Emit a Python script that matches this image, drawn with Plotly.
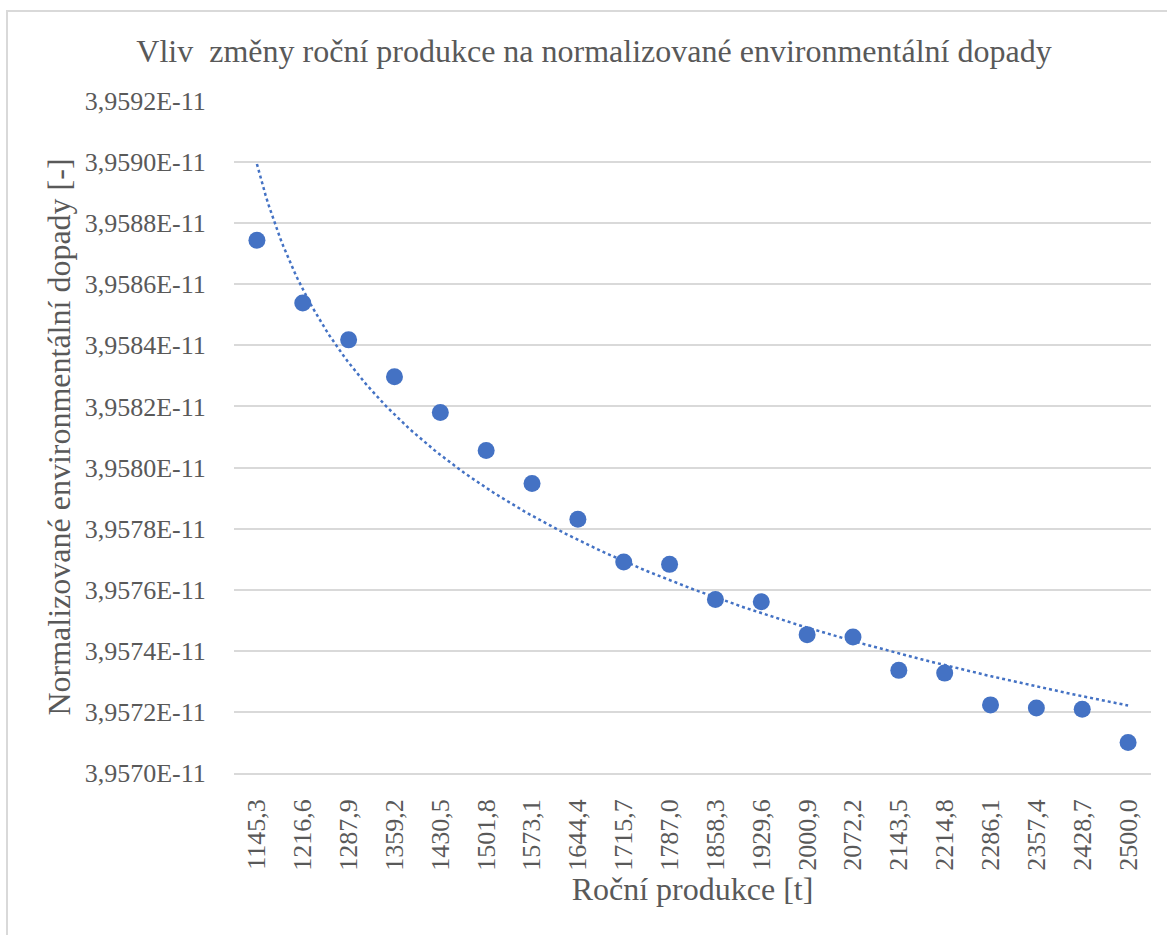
import numpy as np
import plotly.graph_objects as go

# ---- data ----
categories = ["1145,3", "1216,6", "1287,9", "1359,2", "1430,5", "1501,8", "1573,1",
              "1644,4", "1715,7", "1787,0", "1858,3", "1929,6", "2000,9", "2072,2",
              "2143,5", "2214,8", "2286,1", "2357,4", "2428,7", "2500,0"]
impacts = [3.958744e-11, 3.958539e-11, 3.958418e-11, 3.958297e-11, 3.958180e-11,
           3.958056e-11, 3.957948e-11, 3.957831e-11, 3.957691e-11, 3.957683e-11,
           3.957568e-11, 3.957561e-11, 3.957453e-11, 3.957445e-11, 3.957336e-11,
           3.957327e-11, 3.957223e-11, 3.957213e-11, 3.957209e-11, 3.957100e-11]
y_tickvals = [3.9570e-11, 3.9572e-11, 3.9574e-11, 3.9576e-11, 3.9578e-11, 3.9580e-11,
              3.9582e-11, 3.9584e-11, 3.9586e-11, 3.9588e-11, 3.9590e-11, 3.9592e-11]
y_ticktext = ["3,9570E-11", "3,9572E-11", "3,9574E-11", "3,9576E-11", "3,9578E-11", "3,9580E-11",
              "3,9582E-11", "3,9584E-11", "3,9586E-11", "3,9588E-11", "3,9590E-11", "3,9592E-11"]

title_text = "Vliv\u00a0 změny roční produkce na normalizované environmentální dopady"
x_title = "Roční produkce [t]"
y_title = "Normalizované environmentální dopady [-]"

# ---- logarithmic trendline (Excel-like, on category index 1..n) ----
idx = np.arange(1, len(impacts) + 1)
y_scaled = (np.array(impacts) - 3.957e-11) * 1e17
b, a = np.polyfit(np.log(idx), y_scaled, 1)
t_idx = np.linspace(1, len(impacts), 300)
trend = (a + b * np.log(t_idx)) / 1e17 + 3.957e-11

positions = list(range(len(categories)))
blue = "#4472C4"
grey = "#595959"
font_family = "Liberation Serif, Times New Roman, serif"

fig = go.Figure()
fig.add_trace(go.Scatter(x=t_idx - 1, y=trend, mode="lines",
                         line=dict(color=blue, width=2.5, dash="dot"),
                         hoverinfo="skip", showlegend=False))
fig.add_trace(go.Scatter(x=positions, y=impacts, mode="markers",
                         marker=dict(color=blue, size=17, line=dict(width=0)),
                         showlegend=False))

fig.update_layout(
    width=1167, height=935,
    paper_bgcolor="white", plot_bgcolor="white",
    margin=dict(l=234, r=16, t=101, b=162),
    font=dict(family=font_family, color=grey, size=26),
    title=dict(text=title_text, x=0.509, xref="container", xanchor="center",
               y=1 - 51 / 935, yref="container", yanchor="middle",
               font=dict(family=font_family, size=32, color=grey)),
    xaxis=dict(range=[-0.5, 19.5], tickmode="array", tickvals=positions, ticktext=categories,
               tickangle=-90, showgrid=False, zeroline=False, automargin=False,
               showline=True, linecolor="#d9d9d9", linewidth=1.5,
               ticks="outside", ticklen=14, tickcolor="rgba(0,0,0,0)",
               tickfont=dict(family=font_family, size=26, color=grey),
               title=dict(text=x_title, standoff=8,
                          font=dict(family=font_family, size=32, color=grey))),
    yaxis=dict(range=[3.9570e-11, 3.9592e-11], tickmode="array", tickvals=y_tickvals,
               ticktext=y_ticktext, showgrid=True, gridcolor="#d9d9d9", gridwidth=1.5,
               zeroline=False, showline=False, automargin=False,
               ticks="outside", ticklen=22, tickcolor="rgba(0,0,0,0)",
               tickfont=dict(family=font_family, size=26, color=grey),
               title=dict(text=y_title, standoff=4,
                          font=dict(family=font_family, size=32, color=grey))),
    shapes=[dict(type="rect", xref="paper", yref="paper",
                 x0=(7 - 234) / 917, x1=(1180 - 234) / 917,
                 y0=(773 - 950) / 672, y1=(773 - 11) / 672,
                 line=dict(color="#d9d9d9", width=2), fillcolor="rgba(0,0,0,0)",
                 layer="below")],
)

fig.write_html("out.html", config={"displayModeBar": False},
               post_script="document.body.style.margin='0';document.body.style.overflow='hidden';")
